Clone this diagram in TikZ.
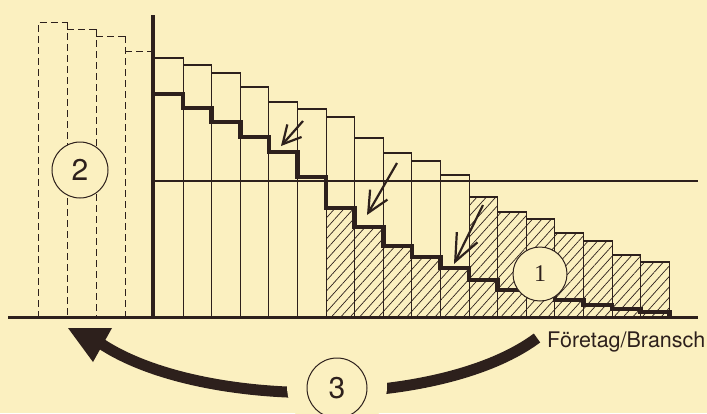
\documentclass[tikz,border=0pt]{standalone}
\usepackage{fontspec}
\setsansfont{TeX Gyre Heros}
\newfontfamily\onefont{Liberation Serif}
\usetikzlibrary{arrows.meta,patterns.meta}
\definecolor{bg}{RGB}{251,240,192}
\definecolor{ink}{RGB}{45,32,28}
\begin{document}
\begin{tikzpicture}[x=1pt,y=-1pt,line join=miter,
  thinline/.style={draw=ink,line width=1.1pt},
  dashbar/.style={draw=ink,line width=1pt,dash pattern=on 7pt off 4pt},
  hatch/.style={pattern={Lines[angle=48,distance=7pt,line width=0.7pt]},pattern color=ink},
  stepline/.style={draw=ink,line width=4.5pt},
  smallarrow/.style={draw=ink,line width=2.2pt},
  numcircle/.style={circle,draw=ink,line width=1pt,fill=bg,inner sep=0pt,text=ink},
]
\fill[bg] (0,0) rectangle (707,413);
\useasboundingbox (0,0) rectangle (707,413);

% hatching
\foreach \i/\t in {6/208,7/227,8/246,9/257,10/268,11/197,12/212,13/219,14/233,15/241,16/255,17/262}
  \fill[hatch] ({154.5+28.6*\i},317.5) rectangle ({154.5+28.6*(\i+1)},\t);

% bars
\foreach \t [count=\j from 0] in {58,65,73,87,102,109,117,138,153,161,175,197,212,219,233,241,255,262}
  \draw[thinline] ({154.5+28.6*\j},317.5) rectangle ({154.5+28.6*(\j+1)},\t);

% horizontal level line
\coordinate (hl) at (155,181);
\coordinate (hr) at (698,181);
\draw[thinline] (hl) -- (hr);

% thick step line
\draw[stepline] (153,94) -- (183.1,94) |- (211.7,108) |- (240.3,122) |- (268.9,137)
  |- (297.5,152) |- (326.1,177) |- (354.7,208) |- (383.3,227) |- (411.9,246)
  |- (440.5,257) |- (469.1,268) |- (497.7,280) |- (526.3,290) |- (554.9,295)
  |- (583.5,300) |- (612.1,305) |- (640.7,309) |- (669.3,312) -- (669.3,317.5);

% dashed bars on the left
\draw[dashbar] (38,317.5) -- (38,22) -- (67,22);
\draw[dashbar] (67,22) -- (67,317.5);
\draw[dashbar] (67,29) -- (96,29);
\draw[dashbar] (96,29) -- (96,317.5);
\draw[dashbar] (96,36) -- (125,36);
\draw[dashbar] (125,36) -- (125,317.5);
\draw[dashbar] (125,51) -- (151,51);

% axes
\coordinate (ytop) at (153,15);
\coordinate (ybot) at (153,319);
\draw[ink,line width=4pt] (ytop) -- (ybot);
\coordinate (xl) at (8,317.5);
\coordinate (xr) at (698,317.5);
\draw[ink,line width=3.5pt] (xl) -- (xr);

% small arrows
\draw[smallarrow,-{Straight Barb[length=18pt,width=19pt]}] (303,121) -- (281,146);
\draw[smallarrow,-{Straight Barb[length=21pt,width=20pt]}] (397,163) -- (367,215);
\draw[smallarrow,-{Straight Barb[length=27pt,width=23pt]}] (483,205) -- (454,264);

% circles 1 and 2
\node[numcircle,minimum size=54pt,font=\onefont\fontsize{24}{24}\selectfont] (c1) at (540,274) {1};
\node[numcircle,minimum size=56pt,font=\sffamily\fontsize{30}{30}\selectfont] (c2) at (80,170) {2};

% big curved arrow
\draw[ink,line width=11pt] (537,338) .. controls (440,410) and (200,410) .. (100,343);
\fill[ink] (68,328) -- (112,328) -- (93,362) -- cycle;
\fill[bg] (337,386) circle[radius=50pt];
\node[numcircle,minimum size=60pt,font=\sffamily\fontsize{30}{30}\selectfont] (c3) at (337,388) {3};

% label
\node[anchor=base west,inner sep=0pt,text=ink,font=\sffamily\fontsize{21.5}{21.5}\selectfont] (lbl) at (547,347) {Företag/Bransch};
\end{tikzpicture}
\end{document}
